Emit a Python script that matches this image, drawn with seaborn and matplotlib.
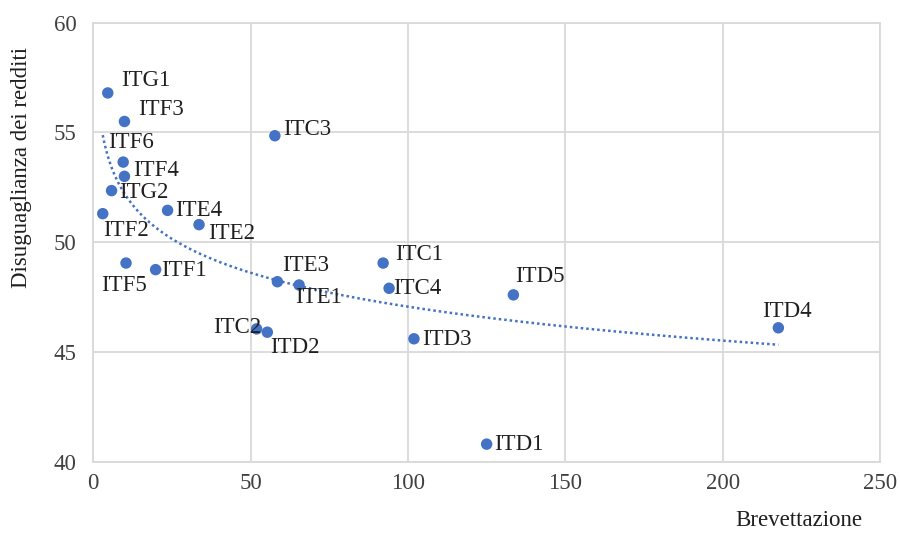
import numpy as np
import pandas as pd
import matplotlib
matplotlib.use("Agg")
import matplotlib.pyplot as plt
import seaborn as sns

regions = ["ITG1", "ITF3", "ITC3", "ITF6", "ITF4", "ITG2", "ITF2", "ITE4", "ITE2",
           "ITF5", "ITF1", "ITE3", "ITE1", "ITC2", "ITD2", "ITC1", "ITC4", "ITD5",
           "ITD4", "ITD3", "ITD1"]
brevettazione = [4.6, 9.9, 57.7, 9.5, 9.9, 5.8, 3.0, 23.6, 33.6,
                 10.4, 19.8, 58.5, 65.4, 51.9, 55.3, 92.1, 94.0, 133.5,
                 217.7, 101.9, 125.0]
disuguaglianza = [56.8, 55.5, 54.85, 53.65, 53.0, 52.35, 51.3, 51.45, 50.8,
                  49.05, 48.75, 48.2, 48.05, 46.05, 45.9, 49.05, 47.9, 47.6,
                  46.1, 45.6, 40.8]
x_ticks = [0, 50, 100, 150, 200, 250]
y_ticks = [40, 45, 50, 55, 60]

# label offsets in pixels (dx, dy: dy positive = down in image) and alignment
offsets = {
    "ITG1": (13, -12, "left"), "ITF3": (14, -12, "left"), "ITC3": (8, -6, "left"),
    "ITF6": (-15, -20, "left"), "ITF4": (9, -6, "left"), "ITG2": (8, 2, "left"),
    "ITF2": (0, 17, "left"), "ITE4": (8, 0, "left"), "ITE2": (9, 9, "left"),
    "ITF5": (-25, 22, "left"), "ITF1": (6, 1, "left"), "ITE3": (5, -16, "left"),
    "ITE1": (-4, 12, "left"), "ITC2": (5, -1, "right"), "ITD2": (3, 15, "left"),
    "ITC1": (12, -9, "left"), "ITC4": (4, 0, "left"), "ITD5": (2, -18, "left"),
    "ITD4": (-16, -16, "left"), "ITD3": (8, 1, "left"), "ITD1": (8, 0, "left"),
}

df = pd.DataFrame({"region": regions, "x": brevettazione, "y": disuguaglianza})

sns.set_style("white")
plt.rcParams["font.family"] = ["Liberation Serif", "DejaVu Serif"]

blue = "#4472C4"
fig = plt.figure(figsize=(9, 5.34), dpi=100)
ax = fig.add_axes([93.3 / 900, 1 - 461.7 / 534, (880 - 93.3) / 900, (461.7 - 22.7) / 534])

# logarithmic trendline fitted on the data
b, a = np.polyfit(np.log(df["x"]), df["y"], 1)
xs = np.linspace(df["x"].min(), df["x"].max(), 400)
ax.plot(xs, a + b * np.log(xs), color=blue, linestyle=(0, (1, 1.2)), linewidth=1.8, zorder=2)

sns.scatterplot(data=df, x="x", y="y", ax=ax, color=blue, s=68, edgecolor="none", zorder=3)

for r, xv, yv in zip(regions, brevettazione, disuguaglianza):
    dx, dy, ha = offsets[r]
    ax.annotate(r, (xv, yv), xytext=(dx, -dy), textcoords="offset pixels",
                ha=ha, va="center", fontsize=16.5, color="#1f1f1f", zorder=4)

ax.set_xlim(0, 250)
ax.set_ylim(40, 60)
ax.set_xticks(x_ticks)
ax.set_yticks(y_ticks)
ax.grid(True, color="#d9d9d9", linewidth=1.3)
ax.set_axisbelow(True)
for sp in ax.spines.values():
    sp.set_color("#d9d9d9")
    sp.set_linewidth(1.3)
ax.tick_params(axis="both", length=0, labelsize=16.5, colors="#404040")
ax.tick_params(axis="x", pad=8)
ax.tick_params(axis="y", pad=12)
ax.set_xlabel("")
ax.set_ylabel("")

fig.text(862 / 900, 1 - 521 / 534, "Brevettazione", ha="right", va="center",
         fontsize=16.5, color="#1f1f1f")
fig.text(22 / 900, 1 - 168 / 534, "Disuguaglianza dei redditi", ha="center", va="center",
         rotation=90, fontsize=16.5, color="#1f1f1f")

fig.savefig("out.png", dpi=100)
